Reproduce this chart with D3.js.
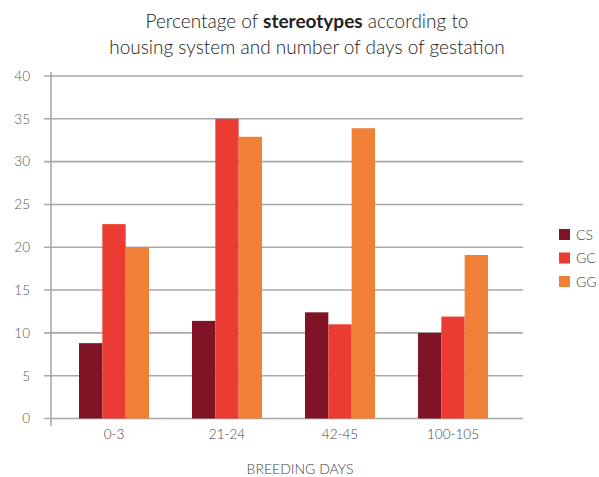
<!DOCTYPE html>
<html>
<head>
<meta charset="utf-8">
<script src="https://cdn.jsdelivr.net/npm/d3@7"></script>
<style>
  body { margin: 0; background: #fff; }
  svg { display: block; font-family: Lato, "Open Sans", sans-serif; }
</style>
</head>
<body>
<svg id="chart" width="599" height="477"></svg>
<script>
// Breeding-day groups and the housing systems compared
const categories = ["0-3", "21-24", "42-45", "100-105"];
const seriesNames = ["CS", "GC", "GG"];
const csValues = [8.8, 11.4, 12.4, 10.0];
const gcValues = [22.7, 35.0, 11.0, 11.9];
const ggValues = [20.0, 32.9, 33.9, 19.1];
const yTicks = [0, 5, 10, 15, 20, 25, 30, 35, 40];
const colors = ["#801426", "#eb3c33", "#f08035"];

const seriesValues = [csValues, gcValues, ggValues];
const rows = categories.map((c, i) => ({
  category: c,
  values: seriesNames.map((s, j) => ({ key: s, value: seriesValues[j][i] }))
}));

const svg = d3.select("#chart");

const y = d3.scaleLinear().domain([0, 40]).range([418.5, 76]);
const x0 = d3.scaleBand().domain(categories).range([57.5, 509.5]).padding(0);
const x1 = d3.scaleBand().domain(seriesNames).range([21.5, 91.5]).padding(0);
const color = d3.scaleOrdinal().domain(seriesNames).range(colors);

// Title
const titleX = 307;
const title = svg.append("text")
  .attr("x", titleX).attr("text-anchor", "middle")
  .attr("fill", "#222").attr("font-size", 19).attr("font-weight", 300);
const l1 = title.append("tspan").attr("x", titleX).attr("y", 28);
l1.append("tspan").text("Percentage of ");
l1.append("tspan").attr("font-weight", 700).text("stereotypes");
l1.append("tspan").text(" according to");
title.append("tspan").attr("x", titleX).attr("y", 54)
  .text("housing system and number of days of gestation");

// Horizontal gridlines
svg.append("g").selectAll("line").data(yTicks).join("line")
  .attr("x1", 44).attr("x2", 523)
  .attr("y1", d => y(d)).attr("y2", d => y(d))
  .attr("stroke", "#a9a9a9").attr("stroke-width", 1.6);

// Y axis
const yAxis = svg.append("g").attr("transform", "translate(51,0)")
  .call(d3.axisLeft(y).tickValues(yTicks).tickSize(0).tickPadding(21));
yAxis.select(".domain").remove();
yAxis.selectAll("text").attr("fill", "#555").attr("font-size", 13.5)
  .attr("font-family", "Lato, sans-serif").attr("font-weight", 300);

svg.append("line")
  .attr("x1", 51).attr("x2", 51).attr("y1", 72).attr("y2", 426)
  .attr("stroke", "#a9a9a9").attr("stroke-width", 1.6);

// Bars
svg.append("g").selectAll("g").data(rows).join("g")
  .attr("transform", d => `translate(${x0(d.category)},0)`)
  .selectAll("rect").data(d => d.values).join("rect")
  .attr("x", d => x1(d.key))
  .attr("width", x1.bandwidth())
  .attr("y", d => y(d.value))
  .attr("height", d => y(0) - y(d.value))
  .attr("fill", d => color(d.key));

// X axis labels
const xAxis = svg.append("g").attr("transform", `translate(0,${y(0)})`)
  .call(d3.axisBottom(x0).tickSize(0).tickPadding(11));
xAxis.select(".domain").remove();
xAxis.selectAll("text").attr("fill", "#444").attr("font-size", 13.5)
  .attr("font-family", "Lato, sans-serif").attr("font-weight", 300);

svg.append("text")
  .attr("x", 300).attr("y", 474).attr("text-anchor", "middle")
  .attr("fill", "#444").attr("font-size", 14).attr("font-weight", 300)
  .text("BREEDING DAYS");

// Legend
const legend = svg.append("g").selectAll("g").data(seriesNames).join("g")
  .attr("transform", (d, i) => `translate(559,${229 + i * 23.5})`);
legend.append("rect").attr("width", 11).attr("height", 11)
  .attr("fill", d => color(d));
legend.append("text").attr("x", 17).attr("y", 10.5)
  .attr("fill", "#444").attr("font-size", 14).attr("font-weight", 300)
  .text(d => d);
</script>
</body>
</html>
